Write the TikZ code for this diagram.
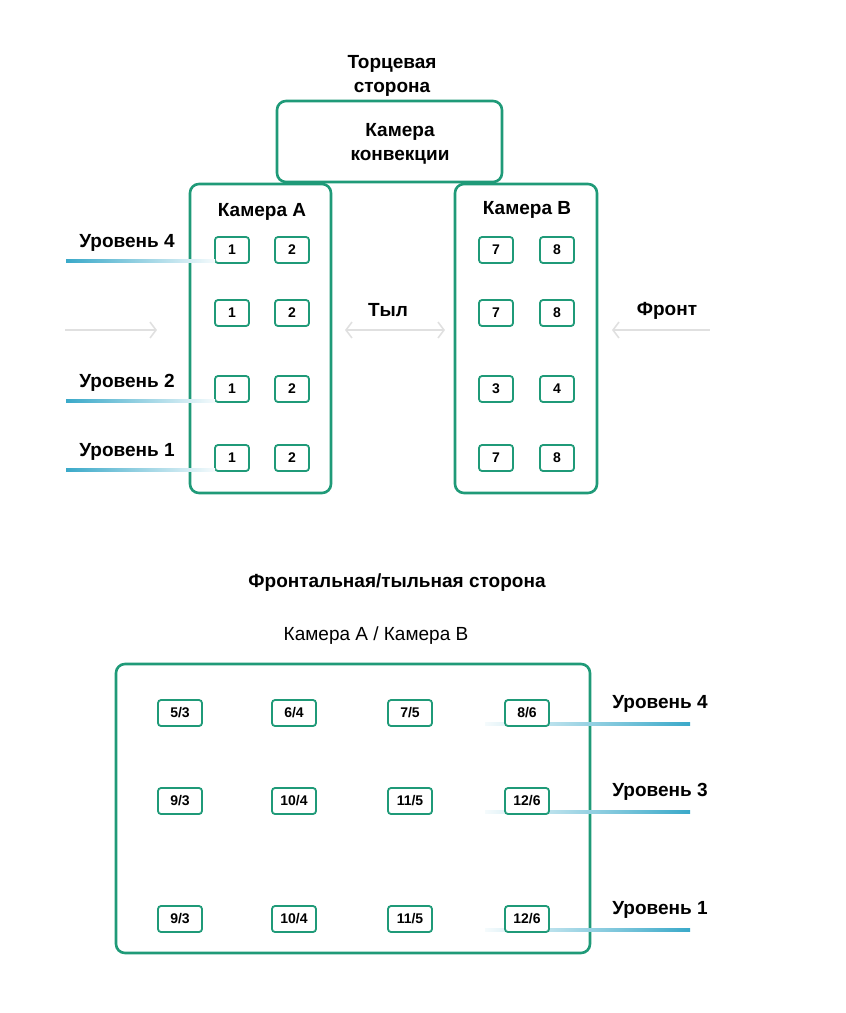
\documentclass[tikz,border=0pt]{standalone}
\usepackage{fontspec}
\setmainfont{Liberation Sans}
\usetikzlibrary{positioning,arrows.meta}
\definecolor{kgreen}{HTML}{1F9A78}
\definecolor{kblue}{HTML}{3AA9C9}
\tikzstyle{chamber}=[draw=kgreen, line width=2.6pt, rounded corners=9pt]
\tikzstyle{slot}=[draw=kgreen, line width=1.8pt, rounded corners=3pt, minimum width=34pt, minimum height=26pt, font=\bfseries\fontsize{14}{16}\selectfont]
\tikzstyle{wslot}=[slot, minimum width=44pt]
\tikzstyle{lbl}=[font=\bfseries\fontsize{19}{24}\selectfont, align=center]
\tikzstyle{flow}=[draw=black!12, line width=1.6pt, -{Straight Barb[length=6pt,width=16pt]}]

\begin{document}
\begin{tikzpicture}[x=1pt, y=-1pt]
	\useasboundingbox (0,0) rectangle (846,1013);
	% top view
	\node[lbl] (endside) at (392,76) {Торцевая\\сторона};
	\draw[chamber] (277,101) rectangle (502,182);
	\node[lbl] (conv) at (400,144) {Камера\\конвекции};
	\draw[chamber] (190,184) rectangle (331,493);
	\draw[chamber] (455,184) rectangle (597,493);
	\node[lbl] (camA) at (262,212) {Камера A};
	\node[lbl] (camB) at (527,210) {Камера B};
	\foreach \y/\n in {250/a4, 313/a3, 389/a2, 458/a1} {
		\node[slot] (\n l) at (232,\y) {1};
		\node[slot] (\n r) at (292,\y) {2};
	}
	\foreach \y/\l/\r/\n in {250/7/8/b4, 313/7/8/b3, 389/3/4/b2, 458/7/8/b1} {
		\node[slot] (\n l) at (496,\y) {\l};
		\node[slot] (\n r) at (557,\y) {\r};
	}
	\foreach \y/\t/\n in {261/4/la4, 401/2/la2, 470/1/la1} {
		\node[lbl] (\n) at (127,\y-18) {Уровень \t};
		\shade[left color=kblue, right color=kblue!5] (66,\y-1.5) rectangle (215,\y+1.5);
	}
	\coordinate (inS) at (65,330); \coordinate (inE) at (157,330);
	\draw[flow] (inS) -- (inE);
	\coordinate (rearL) at (345,330); \coordinate (rearR) at (445,330);
	\draw[flow, {Straight Barb[length=6pt,width=16pt]}-{Straight Barb[length=6pt,width=16pt]}] (rearL) -- (rearR);
	\node[lbl] (rear) at (388,310) {Тыл};
	\node[lbl] (front) at (667,311) {Фронт};
	\coordinate (frS) at (710,330); \coordinate (frE) at (612,330);
	\draw[flow] (frS) -- (frE);
	% front view
	\node[lbl] (frontside) at (397,583) {Фронтальная/тыльная сторона};
	\node[font=\fontsize{19}{24}\selectfont] (pair) at (376,636) {Камера A / Камера B};
	\draw[chamber] (116,664) rectangle (590,953);
	\foreach \y/\row in {713/4, 801/3, 919/1} {
		\shade[left color=kblue!5, right color=kblue] (485,\y+11-1.5) rectangle (690,\y+11+1.5);
		\node[lbl] (lb\row) at (660,\y-9) {Уровень \row};
	}
	\foreach \y/\a/\b/\c/\d/\row in {713/5/6/7/8/4, 801/9/10/11/12/3, 919/9/10/11/12/1} {
		\node[wslot, fill=white] (s\row a) at (180,\y) {\a/3};
		\node[wslot, fill=white] (s\row b) at (294,\y) {\b/4};
		\node[wslot, fill=white] (s\row c) at (410,\y) {\c/5};
		\node[wslot, fill=white] (s\row d) at (527,\y) {\d/6};
	}
\end{tikzpicture}
\end{document}
